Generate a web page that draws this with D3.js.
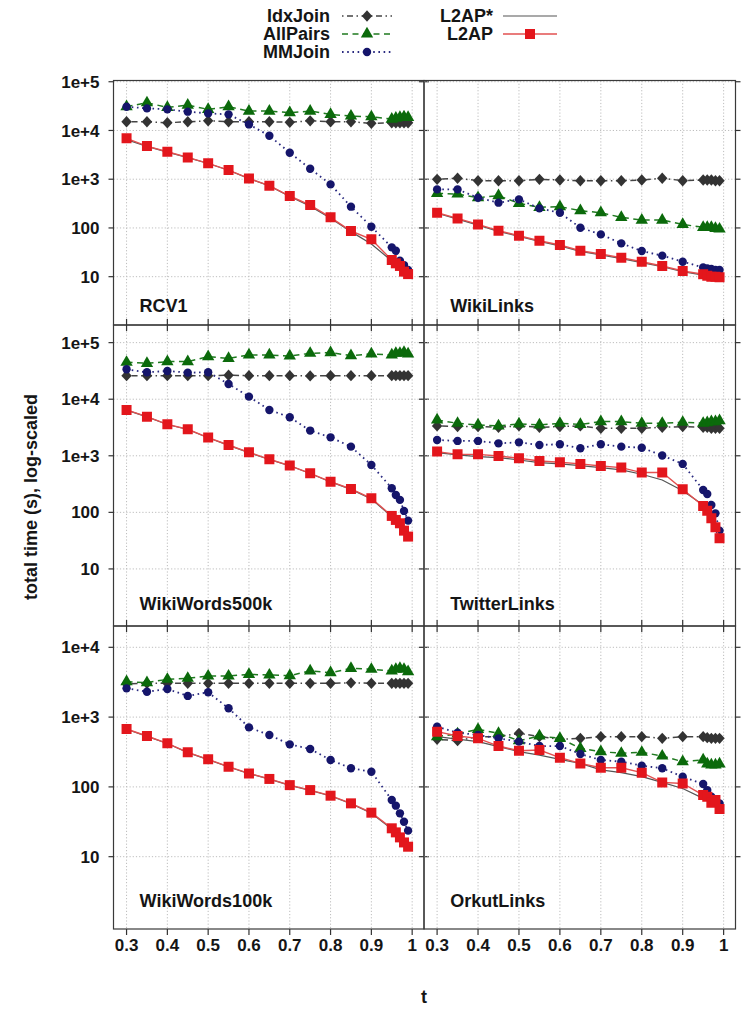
<!DOCTYPE html>
<html><head><meta charset="utf-8">
<script src="https://cdn.jsdelivr.net/npm/d3@7"></script>
<style>
body{margin:0;background:#fff}
text{font-family:"Liberation Sans",Arial,sans-serif;font-weight:bold;fill:#151515}
</style>
</head><body><svg id="c" width="745" height="1011"></svg>
<script>
// ---------- data ----------
const tValues = [0.3,0.35,0.4,0.45,0.5,0.55,0.6,0.65,0.7,0.75,0.8,0.85,0.9,0.95,0.96,0.97,0.98,0.99];
const datasets = ["RCV1","WikiLinks","WikiWords500k","TwitterLinks","WikiWords100k","OrkutLinks"];
const methods = ["IdxJoin","AllPairs","MMJoin","L2AP*","L2AP"];
const xTickValues = [0.3,0.4,0.5,0.6,0.7,0.8,0.9,1];
const xTickLabels = ["0.3","0.4","0.5","0.6","0.7","0.8","0.9","1"];
const yTicksTop = [10,100,1e3,1e4,1e5];
const yTicksMid = [10,100,1e3,1e4,1e5];
const yTicksBottom = [10,100,1e3,1e4];
const yLimitsTop = [1.02,1.06e5];
const yLimitsMid = [0.98,2.05e5];
const yLimitsBottom = [0.92,2.02e4];
const xLimits = [0.268,1.029];

const rcv1IdxJoin  = [15100,15100,14400,15100,15800,15100,15100,15100,14700,15800,15100,15100,14000,14400,14400,14400,14400,14400];
const rcv1AllPairs = [30700,37000,29800,33200,27100,30700,25000,25000,23100,25000,21400,19800,19100,17100,17900,18600,19100,18600];
const rcv1MMJoin   = [30700,28400,27100,24300,22400,21400,13300,7800,3500,1640,783,273,106,40,34,21.3,17.3,13.7];
const rcv1L2APs    = [6500,4700,3600,2780,2100,1530,1030,730,440,280,158,84,47,21,18,15.5,12.3,10.8];
const rcv1L2AP     = [6890,4790,3665,2805,2113,1542,1040,736,452,295,165,86.5,58.3,22,18.8,16.6,12.7,11.3];

const wlIdxJoin  = [993,1047,931,931,931,993,962,931,931,931,962,1047,931,962,962,962,931,931];
const wlAllPairs = [512,497,417,459,319,265,273,226,205,165,145,145,118,103,103,103,98,95];
const wlMMJoin   = [618,618,417,330,386,252,205,101,73.8,48.3,33.6,27,20.3,15.5,14.8,14.4,13.7,13.7];
const wlL2APs    = [200,152,114,85,67,53,43,33,28,23.5,19.5,16,12.7,10.8,10.2,9.8,9.7,9.5];
const wlL2AP     = [205,157,118,88,69,54.7,44.7,34.1,29.2,24.5,20.3,16.6,13.1,11.2,10.5,10,10,9.7];

const ww500IdxJoin  = [26100,26100,26100,26100,26100,26500,26100,26100,26100,25800,26100,26100,26100,26100,26100,26100,26100,26100];
const ww500AllPairs = [44900,43100,46200,46200,56600,52800,60500,60500,58100,64800,66600,58900,63100,60500,64800,64800,67500,63100];
const ww500MMJoin   = [33800,29900,31600,29500,29900,18600,11100,6460,4790,2790,2120,1450,689,267,203,166,106,71.5];
const ww500L2APs    = [6400,4880,3570,2910,2080,1530,1140,860,665,485,345,255,172,84,71,62,46,36.5];
const ww500L2AP     = [6460,4920,3600,2940,2100,1550,1150,867,670,490,349,259,177,86.5,73.5,64.1,47.5,37.3];

const twIdxJoin  = [3370,3280,3280,3190,3370,3190,3280,3370,3060,3060,3060,3190,3280,3190,3190,3060,3060,3060];
const twAllPairs = [4300,3750,3510,3370,3650,3510,3750,3580,4020,4020,3750,3750,3910,3750,3850,4020,4020,4180];
const twMMJoin   = [1905,1830,1830,1660,1730,1550,1600,1360,1600,1450,1390,1010,718,249,211,135,96,47.5];
const twL2APs    = [1140,1035,967,928,843,757,718,670,618,562,471,374,242,135,110,81.8,56,36.3];
const twL2AP     = [1185,1060,1060,993,904,811,768,718,661,618,505,505,256,130,107,78.6,54.5,34.8];

const ww100IdxJoin  = [3000,3050,3050,3050,3050,3050,3050,3050,3050,3050,3050,3100,3050,3050,3050,3050,3050,3050];
const ww100AllPairs = [3220,3120,3480,3600,3880,3880,4100,4010,3930,4580,4330,5000,4840,4580,4840,5000,4840,4480];
const ww100MMJoin   = [2580,2310,2530,2010,2270,1340,713,554,407,349,243,185,165,64.9,53.8,41.8,31.7,23.6];
const ww100L2APs    = [670,530,418,310,246,193,155,129,105,89,74,57.5,42,25,22,18.5,15.8,13.7];
const ww100L2AP     = [675,536,421,313,248,195,156,130,106,90,74.8,58.1,42.7,25.5,22.3,18.9,16,13.9];

const okIdxJoin  = [480,459,525,525,585,525,480,496,525,525,525,496,525,525,507,496,496,496];
const okAllPairs = [525,573,668,585,459,536,496,357,320,303,313,277,230,243,213,206,206,213];
const okMMJoin   = [729,598,554,496,445,385,385,296,243,230,201,185,140,110,90,72.4,63.4,58];
const okL2APs    = [525,485,445,377,320,286,248,217,175,160,140,116,95,68.5,65,59,55,51];
const okL2AP     = [618,536,496,385,330,337,262,217,188,188,160,116,112,76.4,72.4,59.4,64.9,48.2];

const panelSeries = {
  "RCV1": [rcv1IdxJoin,rcv1AllPairs,rcv1MMJoin,rcv1L2APs,rcv1L2AP],
  "WikiLinks": [wlIdxJoin,wlAllPairs,wlMMJoin,wlL2APs,wlL2AP],
  "WikiWords500k": [ww500IdxJoin,ww500AllPairs,ww500MMJoin,ww500L2APs,ww500L2AP],
  "TwitterLinks": [twIdxJoin,twAllPairs,twMMJoin,twL2APs,twL2AP],
  "WikiWords100k": [ww100IdxJoin,ww100AllPairs,ww100MMJoin,ww100L2APs,ww100L2AP],
  "OrkutLinks": [okIdxJoin,okAllPairs,okMMJoin,okL2APs,okL2AP]
};

// ---------- layout & styles ----------
const colX = [113.5, 424, 735.5];
const rowY = [80.5, 325, 626, 929];
const rowLimits = [yLimitsTop, yLimitsMid, yLimitsBottom];
const rowTicks = [yTicksTop, yTicksMid, yTicksBottom];

const diamond = {draw(ctx,size){const r=Math.sqrt(size)/2*1.25; ctx.moveTo(0,-r);ctx.lineTo(r*0.92,0);ctx.lineTo(0,r);ctx.lineTo(-r*0.92,0);ctx.closePath();}};
const styles = {
  "IdxJoin": {color:"#333333", line:"#444444", dash:"1.5,3.5,6,3.5", width:1.5, symbol:diamond, size:82},
  "AllPairs":{color:"#0b6a0b", line:"#1f7a1f", dash:"6,4.5", width:1.5, symbol:d3.symbolTriangle, size:66},
  "MMJoin":  {color:"#15156b", line:"#2a2a80", dash:"1.6,3.6", width:1.8, symbol:d3.symbolCircle, size:55},
  "L2AP*":   {color:"#555555", line:"#555555", dash:null, width:1.2, symbol:null},
  "L2AP":    {color:"#e3161c", line:"#e25050", dash:null, width:1.4, symbol:d3.symbolSquare, size:100}
};

const fmt = v => v >= 1000 ? "1e+" + Math.round(Math.log10(v)) : String(v);

const svg = d3.select("#c");
const defs = svg.append("defs");

datasets.forEach((name, i) => {
  const r = Math.floor(i / 2), c = i % 2;
  const x = d3.scaleLinear().domain(xLimits).range([colX[c], colX[c+1]]);
  const y = d3.scaleLog().domain(rowLimits[r]).range([rowY[r+1], rowY[r]]);
  const g = svg.append("g");
  const clipId = "clip" + i;
  defs.append("clipPath").attr("id", clipId).append("rect")
    .attr("x", colX[c]).attr("y", rowY[r]).attr("width", colX[c+1]-colX[c]).attr("height", rowY[r+1]-rowY[r]);

  // grid
  const grid = g.append("g").attr("stroke", "#bdbdbd").attr("stroke-width", 1).attr("stroke-dasharray", "1.2,2");
  grid.selectAll("line.v").data(xTickValues).join("line")
    .attr("x1", d => x(d)).attr("x2", d => x(d)).attr("y1", rowY[r]).attr("y2", rowY[r+1]);
  grid.selectAll("line.h").data(rowTicks[r]).join("line")
    .attr("x1", colX[c]).attr("x2", colX[c+1]).attr("y1", d => y(d)).attr("y2", d => y(d));

  // series
  const plot = g.append("g").attr("clip-path", `url(#${clipId})`);
  const order = [3,0,1,2,4];
  order.forEach(k => {
    const m = methods[k], st = styles[m];
    const vals = panelSeries[name][k];
    const pts = vals.map((v, j) => [tValues[j], v]);
    plot.append("path")
      .attr("d", d3.line().x(d => x(d[0])).y(d => y(d[1]))(pts))
      .attr("fill", "none").attr("stroke", st.line).attr("stroke-width", st.width)
      .attr("stroke-dasharray", st.dash);
    if (st.symbol) {
      plot.selectAll(null).data(pts).join("path")
        .attr("d", d3.symbol().type(st.symbol).size(st.size)())
        .attr("transform", d => `translate(${x(d[0])},${y(d[1])})`)
        .attr("fill", st.color);
    }
  });

  // frame
  g.append("rect").attr("x", colX[c]).attr("y", rowY[r])
    .attr("width", colX[c+1]-colX[c]).attr("height", rowY[r+1]-rowY[r])
    .attr("fill", "none").attr("stroke", "#3a3a3a").attr("stroke-width", 1.2);

  // panel label
  g.append("text").attr("x", x(0.332)).attr("y", y(1.9)).attr("font-size", 18).text(name);

  // y ticks
  const tk = g.append("g").attr("stroke", "#333").attr("stroke-width", 1.2);
  if (c === 0) {
    tk.selectAll(null).data(rowTicks[r]).join("line")
      .attr("x1", colX[0]-5).attr("x2", colX[0]).attr("y1", d => y(d)).attr("y2", d => y(d));
    g.selectAll(null).data(rowTicks[r]).join("text")
      .attr("x", colX[0]-14).attr("y", d => y(d)).attr("dy", "0.36em")
      .attr("text-anchor", "end").attr("font-size", 17).text(fmt);
    tk.selectAll(null).data(rowTicks[r]).join("line")
      .attr("x1", colX[1]-5).attr("x2", colX[1]+5).attr("y1", d => y(d)).attr("y2", d => y(d));
  } else {
    tk.selectAll(null).data(rowTicks[r]).join("line")
      .attr("x1", colX[2]).attr("x2", colX[2]+5).attr("y1", d => y(d)).attr("y2", d => y(d));
  }
  // x ticks
  if (r > 0) {
    tk.selectAll(null).data(xTickValues).join("line")
      .attr("x1", d => x(d)).attr("x2", d => x(d)).attr("y1", rowY[r]-6).attr("y2", rowY[r]+6);
  }
  if (r === 2) {
    tk.selectAll(null).data(xTickValues).join("line")
      .attr("x1", d => x(d)).attr("x2", d => x(d)).attr("y1", rowY[3]).attr("y2", rowY[3]+6);
    g.selectAll(null).data(xTickValues).join("text")
      .attr("x", d => x(d)).attr("y", rowY[3]+22).attr("text-anchor", "middle")
      .attr("font-size", 17).text((d, j) => xTickLabels[j]);
  }
});

// axis titles
svg.append("text").attr("transform", "translate(37,497) rotate(-90)")
  .attr("text-anchor", "middle").attr("font-size", 18).text("total time (s), log-scaled");
svg.append("text").attr("x", 424).attr("y", 1003).attr("text-anchor", "middle").attr("font-size", 18).text("t");

// legend
const legendItems = [
  {m:"IdxJoin", tx:330, y:16, lx:[342,392]},
  {m:"AllPairs", tx:330, y:34, lx:[342,392]},
  {m:"MMJoin", tx:330, y:52, lx:[342,392]},
  {m:"L2AP*", tx:493, y:16, lx:[503,557]},
  {m:"L2AP", tx:493, y:34, lx:[503,557]}
];
const lg = svg.append("g");
legendItems.forEach(it => {
  const st = styles[it.m];
  lg.append("text").attr("x", it.tx).attr("y", it.y).attr("dy", "0.36em")
    .attr("text-anchor", "end").attr("font-size", 18).text(it.m);
  lg.append("line").attr("x1", it.lx[0]).attr("x2", it.lx[1]).attr("y1", it.y).attr("y2", it.y)
    .attr("stroke", st.line).attr("stroke-width", st.width).attr("stroke-dasharray", st.dash);
  if (st.symbol) {
    lg.append("path").attr("d", d3.symbol().type(st.symbol).size(st.size)())
      .attr("transform", `translate(${(it.lx[0]+it.lx[1])/2},${it.y})`).attr("fill", st.color);
  }
});
</script>
</body></html>
